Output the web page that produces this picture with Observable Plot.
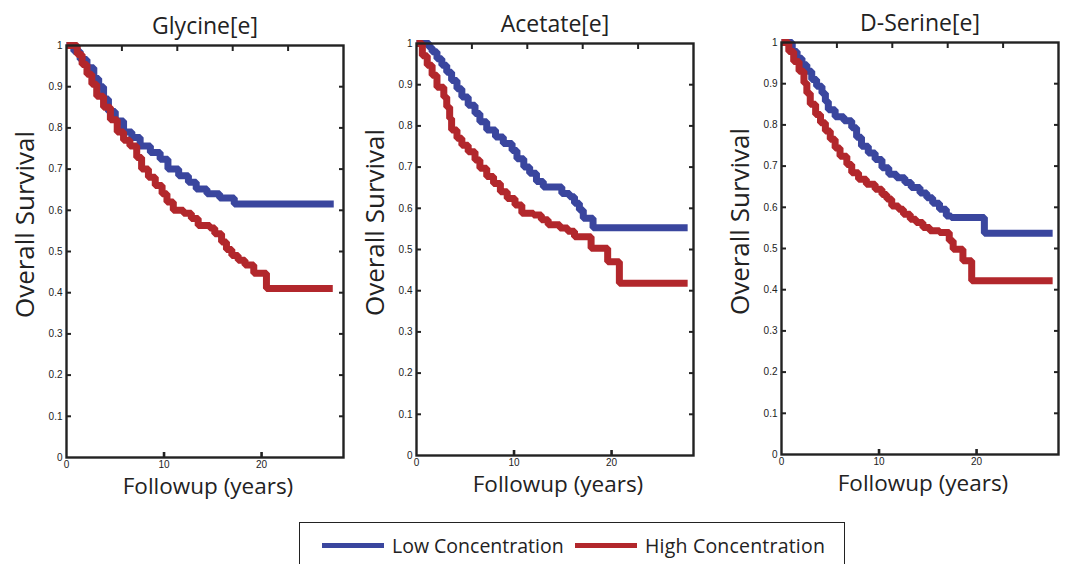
<!DOCTYPE html>
<html>
<head>
<meta charset="utf-8">
<script src="https://cdn.jsdelivr.net/npm/d3@7"></script>
<script src="https://cdn.jsdelivr.net/npm/@observablehq/plot@0.6"></script>
<style>
  html, body { margin: 0; padding: 0; background: #fff; }
  #wrap { position: relative; width: 1067px; height: 564px; overflow: hidden; background: #fff; }
  #wrap svg { position: absolute; }
  #legend { position: absolute; left: 299px; top: 522px; width: 546px; height: 60px; border: 1.6px solid #222; box-sizing: border-box; font-family: "Open Sans", sans-serif; font-size: 19.5px; color: #222; }
  .item { position: absolute; top: 9px; display: flex; align-items: center; white-space: nowrap; }
  .sw { width: 62px; height: 5.5px; margin-right: 8px; }
</style>
</head>
<body>
<div id="wrap"><div id="legend"></div></div>
<script>
// ---------- data ----------
const panelTitles = ["Glycine[e]", "Acetate[e]", "D-Serine[e]"];
const seriesNames = ["Low Concentration", "High Concentration"];
const yTickValues = [0, 0.1, 0.2, 0.3, 0.4, 0.5, 0.6, 0.7, 0.8, 0.9, 1];
const xTickValues = [0, 10, 20];

// Glycine[e]
const glycineLowT  = [0, 0.75, 1.4, 2.1, 2.8, 3.3, 3.8, 4.3, 5.0, 5.85, 6.7, 7.55, 8.6, 9.6, 10.4, 11.5, 12.5, 13.3, 14.4, 15.7, 17.2, 27.4];
const glycineLowS  = [1, 0.986, 0.966, 0.946, 0.92, 0.90, 0.87, 0.84, 0.817, 0.79, 0.777, 0.756, 0.74, 0.724, 0.70, 0.684, 0.668, 0.652, 0.64, 0.63, 0.615, 0.615];
const glycineHighT = [0, 1.1, 1.6, 2.1, 2.6, 3.1, 3.8, 4.5, 5.2, 5.85, 6.5, 7.2, 7.7, 8.4, 9.1, 9.8, 10.3, 10.95, 12.0, 12.8, 13.5, 14.7, 15.2, 15.9, 16.4, 16.95, 17.6, 18.3, 19.2, 20.5, 27.3];
const glycineHighS = [1, 0.978, 0.954, 0.93, 0.906, 0.877, 0.85, 0.82, 0.79, 0.77, 0.756, 0.728, 0.70, 0.68, 0.66, 0.64, 0.62, 0.60, 0.593, 0.58, 0.563, 0.557, 0.543, 0.523, 0.505, 0.49, 0.479, 0.467, 0.447, 0.41, 0.41];

// Acetate[e]
const acetateLowT  = [0, 1.3, 1.6, 2.1, 2.6, 3.1, 3.6, 4.15, 4.65, 5.3, 6.0, 6.5, 7.2, 8.1, 8.9, 9.8, 10.3, 11.0, 11.6, 12.3, 13.0, 14.9, 15.7, 16.2, 16.7, 17.1, 18.1, 27.8];
const acetateLowS  = [1, 0.99, 0.98, 0.963, 0.947, 0.93, 0.91, 0.89, 0.87, 0.85, 0.83, 0.81, 0.79, 0.773, 0.757, 0.74, 0.72, 0.70, 0.685, 0.665, 0.652, 0.636, 0.628, 0.612, 0.596, 0.576, 0.553, 0.553];
const acetateHighT = [0, 0.6, 1.1, 1.6, 2.1, 2.8, 3.1, 3.4, 3.6, 4.15, 4.65, 5.3, 6.0, 6.5, 7.2, 7.9, 8.6, 9.3, 10.1, 10.8, 12.0, 12.8, 13.5, 14.7, 15.5, 16.2, 17.9, 19.6, 20.8, 27.8];
const acetateHighS = [1, 0.97, 0.947, 0.923, 0.894, 0.87, 0.846, 0.818, 0.79, 0.77, 0.753, 0.737, 0.717, 0.697, 0.677, 0.66, 0.64, 0.624, 0.608, 0.588, 0.584, 0.572, 0.56, 0.552, 0.544, 0.531, 0.503, 0.47, 0.418, 0.418];

// D-Serine[e]
const serineLowT  = [0, 1.1, 1.6, 2.1, 2.6, 3.1, 3.6, 4.15, 4.5, 4.8, 5.5, 6.4, 7.2, 7.7, 8.2, 8.9, 9.6, 10.3, 11.0, 11.8, 12.65, 13.3, 14.2, 14.9, 15.5, 16.2, 16.9, 17.4, 20.8, 27.8];
const serineLowS  = [1, 0.978, 0.962, 0.946, 0.93, 0.91, 0.894, 0.877, 0.857, 0.837, 0.82, 0.81, 0.793, 0.77, 0.748, 0.732, 0.716, 0.696, 0.68, 0.672, 0.66, 0.648, 0.635, 0.623, 0.61, 0.595, 0.579, 0.575, 0.537, 0.537];
const serineHighT = [0, 0.75, 1.25, 1.8, 2.3, 2.6, 2.95, 3.5, 4.0, 4.5, 5.0, 5.5, 6.0, 6.7, 7.2, 7.9, 8.7, 9.6, 10.3, 10.8, 11.3, 12.0, 12.5, 13.2, 13.8, 14.5, 15.2, 16.2, 17.2, 17.6, 18.6, 19.5, 27.8];
const serineHighS = [1, 0.978, 0.954, 0.93, 0.902, 0.877, 0.85, 0.825, 0.805, 0.785, 0.765, 0.744, 0.724, 0.704, 0.684, 0.668, 0.656, 0.644, 0.631, 0.62, 0.603, 0.595, 0.583, 0.571, 0.563, 0.551, 0.543, 0.539, 0.519, 0.498, 0.47, 0.422, 0.422];

// ---------- layout / style ----------
const BLUE = "#3a469e", RED = "#b2272c", INK = "#222";
const X_MAX = 28.4;
const ML = 66, MR = 8, MT = 44, MB = 60, FW = 277, FH = 412;
const frameLefts = [66, 416, 781];
const frameTops = [44.5, 43, 42];

const rows = (T, S) => T.map((t, i) => ({t, s: S[i]}));
const panelData = [
  [rows(glycineLowT, glycineLowS), rows(glycineHighT, glycineHighS)],
  [rows(acetateLowT, acetateLowS), rows(acetateHighT, acetateHighS)],
  [rows(serineLowT, serineLowS), rows(serineHighT, serineHighS)]
];
const colors = [BLUE, RED];

const innerY = yTickValues.filter(v => v > 0 && v < 1);
const innerX = xTickValues.filter(v => v > 0);
const topTicks = [1, 2, 3, 4].map(i => X_MAX * i / 5);
const blank = () => "";
const fmt = d3.format("~g");
const titleFont = "'Open Sans', 'Noto Sans', sans-serif";

const wrap = document.getElementById("wrap");

panelTitles.forEach((title, p) => {
  const [low, high] = panelData[p];
  const chart = Plot.plot({
    width: ML + FW + MR,
    height: MT + FH + MB,
    marginLeft: ML, marginRight: MR, marginTop: MT, marginBottom: MB,
    x: {domain: [0, X_MAX]},
    y: {domain: [0, 1]},
    style: {background: "transparent", fontFamily: "'Liberation Sans', Arial, sans-serif", fontSize: "10px", color: INK, overflow: "visible"},
    marks: [
      Plot.line(low, {x: "t", y: "s", curve: "step-after", stroke: colors[0], strokeWidth: 7, strokeLinejoin: "miter", strokeLinecap: "butt"}),
      Plot.line(high, {x: "t", y: "s", curve: "step-after", stroke: colors[1], strokeWidth: 7, strokeLinejoin: "miter", strokeLinecap: "butt"}),
      Plot.frame({stroke: INK, strokeWidth: 2.4}),
      Plot.axisY({anchor: "left", ticks: yTickValues, tickFormat: fmt, tickSize: 0, tickPadding: 4, label: null, fill: INK}),
      Plot.axisY({anchor: "left", ticks: innerY, tickSize: -5, tickFormat: blank, strokeWidth: 2, stroke: INK, label: null}),
      Plot.axisY({anchor: "right", ticks: innerY, tickSize: -5, tickFormat: blank, strokeWidth: 2, stroke: INK, label: null}),
      Plot.axisX({anchor: "bottom", ticks: xTickValues, tickFormat: fmt, tickSize: 0, tickPadding: 3, label: null, fill: INK}),
      Plot.axisX({anchor: "bottom", ticks: innerX, tickSize: -5, tickFormat: blank, strokeWidth: 2.6, stroke: INK, label: null}),
      Plot.axisX({anchor: "top", ticks: topTicks, tickSize: -5, tickFormat: blank, strokeWidth: 2, stroke: INK, label: null}),
      Plot.text([title], {frameAnchor: "top", dy: -12, lineAnchor: "bottom", text: d => d, fontSize: 23, fontFamily: titleFont, fill: INK}),
      Plot.text(["Overall Survival"], {frameAnchor: "left", textAnchor: "middle", dx: -41, dy: -27, rotate: -90, text: d => d, fontSize: 26, fontFamily: titleFont, fill: INK}),
      Plot.text(["Followup (years)"], {frameAnchor: "bottom", dx: 3, dy: 36, lineAnchor: "bottom", text: d => d, fontSize: 22.5, fontFamily: titleFont, fill: INK})
    ]
  });
  chart.style.left = (frameLefts[p] - ML) + "px";
  chart.style.top = (frameTops[p] - MT) + "px";
  wrap.appendChild(chart);
});

// legend
const legend = document.getElementById("legend");
const itemLefts = [22, 275];
seriesNames.forEach((name, i) => {
  const item = document.createElement("div");
  item.className = "item";
  item.style.left = itemLefts[i] + "px";
  const sw = document.createElement("div");
  sw.className = "sw";
  sw.style.background = colors[i];
  const label = document.createElement("span");
  label.textContent = name;
  if (i === 1) label.style.letterSpacing = "0.2px";
  item.appendChild(sw);
  item.appendChild(label);
  legend.appendChild(item);
});
</script>
</body>
</html>
